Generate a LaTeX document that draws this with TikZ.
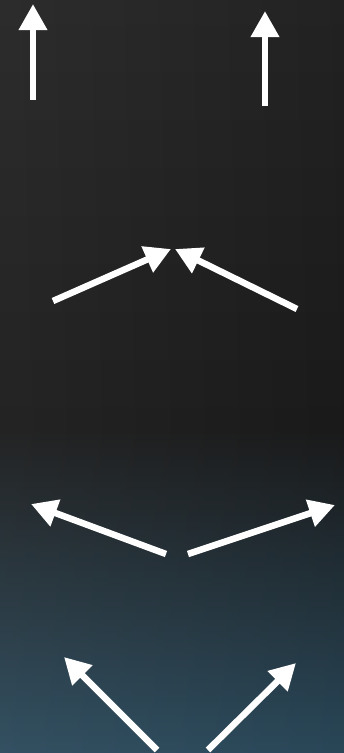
\documentclass[tikz,border=0pt]{standalone}
\usetikzlibrary{arrows.meta}
\definecolor{bgtop}{HTML}{242424}
\definecolor{bgmid}{HTML}{1B1B1B}
\definecolor{bgbot}{HTML}{2B4A5C}
\tikzset{
  flow/.style={draw=white, line width=6.5pt, line cap=butt,
    -{Triangle[width=27pt,length=26pt]}},
}
\begin{document}
\begin{tikzpicture}[x=1pt,y=-1pt]
  % background: dark grey upper part, fading to slate blue at the bottom
  \useasboundingbox (0,0) rectangle (344,753);
  \shade[top color=bgtop, bottom color=bgmid] (0,0) rectangle (344,431);
  \shade[top color=bgmid, bottom color=bgbot] (0,430) rectangle (344,753);
  \shade[left color=white, right color=black, opacity=0.04] (0,0) rectangle (344,753);

  % end points
  \coordinate (a1) at (33,100);  \coordinate (b1) at (33,4);
  \coordinate (a2) at (265,106); \coordinate (b2) at (265,11);
  \coordinate (a3) at (53,301);  \coordinate (b3) at (171,249);
  \coordinate (a4) at (297,309); \coordinate (b4) at (175,249);
  \coordinate (a5) at (166,554); \coordinate (b5) at (31,504);
  \coordinate (a6) at (188,554); \coordinate (b6) at (335,505);
  \coordinate (a7) at (157,750); \coordinate (b7) at (64,657);
  \coordinate (a8) at (208,750); \coordinate (b8) at (296,663);

  % arrows
  \draw[flow] (a1) -- (b1);
  \draw[flow] (a2) -- (b2);
  \draw[flow] (a3) -- (b3);
  \draw[flow] (a4) -- (b4);
  \draw[flow] (a5) -- (b5);
  \draw[flow] (a6) -- (b6);
  \draw[flow] (a7) -- (b7);
  \draw[flow] (a8) -- (b8);
\end{tikzpicture}
\end{document}
